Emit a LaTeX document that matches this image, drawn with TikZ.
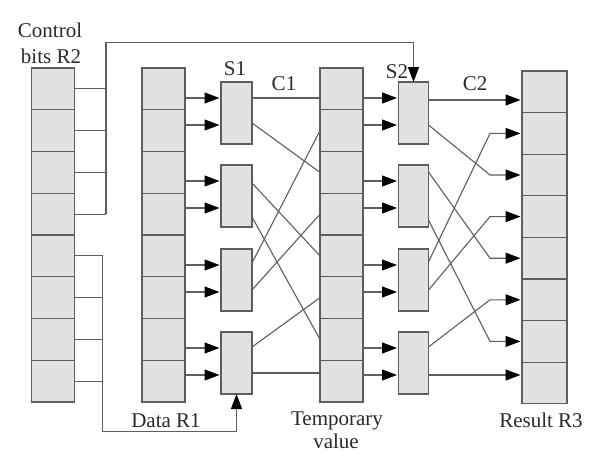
\documentclass[tikz,border=0pt]{standalone}
\usepackage{fontspec}
\setmainfont{Liberation Serif}
\usetikzlibrary{arrows.meta,calc}
\definecolor{linegray}{HTML}{5E5E5E}
\definecolor{cellfill}{HTML}{E2E2E2}
\definecolor{txt}{HTML}{2A2A2A}
\begin{document}
\begin{tikzpicture}[x=1pt,y=-1pt,
  cell/.style={draw=linegray,fill=cellfill,line width=1.3pt,minimum width=43pt,minimum height=41.75pt,inner sep=0pt,outer sep=0pt},
  swbox/.style={draw=linegray,fill=cellfill,line width=1.3pt,minimum width=31pt,minimum height=62pt,inner sep=0pt,outer sep=0pt},
  wire/.style={draw=linegray,line width=1.1pt},
  arr/.style={wire,-{Triangle[length=15pt,width=11pt,black]},shorten >=1.5pt},
  lbl/.style={text=txt,font=\rmfamily\fontsize{21}{25}\selectfont,inner sep=0pt,anchor=base}]
\useasboundingbox[fill=white] (0,0) rectangle (592,461);

% registers
\foreach \i in {1,...,8} {
  \node[cell] (R2-\i) at (53,{68+41.75*(\i-0.5)}) {};
  \node[cell] (R1-\i) at (163.5,{68+41.75*(\i-0.5)}) {};
  \node[cell] (T-\i) at (341.5,{68+41.75*(\i-0.5)}) {};
  \node[cell,minimum width=45pt,minimum height=41.6pt] (R3-\i) at (544.5,{71+41.6*(\i-0.5)}) {};
}

% switch boxes
\foreach \j/\t in {1/82,2/165,3/249,4/332} {
  \node[swbox] (S1-\j) at (236.5,{\t+31}) {};
  \node[swbox,minimum width=30pt] (S2-\j) at (413.5,{\t+31}) {};
  \coordinate (S1-\j-i1) at ($(S1-\j.north west)+(0,16)$);
  \coordinate (S1-\j-i2) at ($(S1-\j.north west)+(0,43)$);
  \coordinate (S2-\j-i1) at ($(S2-\j.north west)+(0,16)$);
  \coordinate (S2-\j-i2) at ($(S2-\j.north west)+(0,43)$);
}
% output ports
\foreach \j/\a/\b in {1/16/41,2/18/52,3/14/41,4/15/41} {
  \coordinate (S1-\j-o1) at ($(S1-\j.north east)+(0,\a)$);
  \coordinate (S1-\j-o2) at ($(S1-\j.north east)+(0,\b)$);
}
\foreach \j/\a/\b in {1/18/43,2/7/55,3/13/41,4/15/43} {
  \coordinate (S2-\j-o1) at ($(S2-\j.north east)+(0,\a)$);
  \coordinate (S2-\j-o2) at ($(S2-\j.north east)+(0,\b)$);
}

% inputs to switch boxes
\foreach \j in {1,...,4} {
  \draw[arr] (S1-\j-i1 -| R1-1.east) -- (S1-\j-i1);
  \draw[arr] (S1-\j-i2 -| R1-1.east) -- (S1-\j-i2);
  \draw[arr] (S2-\j-i1 -| T-1.east) -- (S2-\j-i1);
  \draw[arr] (S2-\j-i2 -| T-1.east) -- (S2-\j-i2);
}

% stage 1 outputs to temporary value
\draw[wire] (S1-1-o1) -- (S1-1-o1 -| T-1.west);
\draw[wire] (S1-1-o2) -- (T-3.west);
\draw[wire] (S1-2-o1) -- (T-5.west);
\draw[wire] (S1-2-o2) -- (T-7.west);
\draw[wire] (S1-3-o1) -- (T-2.west);
\draw[wire] (S1-3-o2) -- (T-4.west);
\draw[wire] (S1-4-o1) -- (T-6.west);
\draw[wire] (S1-4-o2) -- (S1-4-o2 -| T-1.west);

% stage 2 outputs to result
\draw[arr] (S2-1-o1) -- (S2-1-o1 -| R3-1.west);
\foreach \j/\k/\c in {1/2/3,2/1/5,2/2/7,3/1/2,3/2/4,4/1/6} {
  \draw[arr] (S2-\j-o\k) -- ([xshift=-32pt]R3-\c.west) -- (R3-\c.west);
}
\draw[arr] (S2-4-o2) -- (S2-4-o2 -| R3-1.west);

% control bits
\foreach \i in {1,...,4} \draw[wire] (R2-\i.east) -- ++(31.5,0);
\coordinate (busT) at ($(R2-4.east)+(31.5,0)$);
\draw[arr,shorten >=0pt] (busT) -- ++(0,-172) -| (S2-1.north);
\foreach \i in {5,...,8} \draw[wire] (R2-\i.east) -- ++(28,0);
\coordinate (busB) at ($(R2-5.east)+(28,0)$);
\draw[arr,shorten >=0pt] (busB) -- ++(0,176) -| (S1-4.south);

% labels
\node[lbl] (lc1) at (50,37) {Control};
\node[lbl] (lc2) at (51,63) {bits R2};
\node[lbl] (ls1) at (235,75) {S1};
\node[lbl] (lk1) at (284,90) {C1};
\node[lbl] (ls2) at (397,78) {S2};
\node[lbl] (lk2) at (475,90) {C2};
\node[lbl] (ld) at (166,427) {Data R1};
\node[lbl] (lt1) at (337,425) {Temporary};
\node[lbl] (lt2) at (336,448) {value};
\node[lbl] (lr) at (541,427) {Result R3};
\end{tikzpicture}
\end{document}
